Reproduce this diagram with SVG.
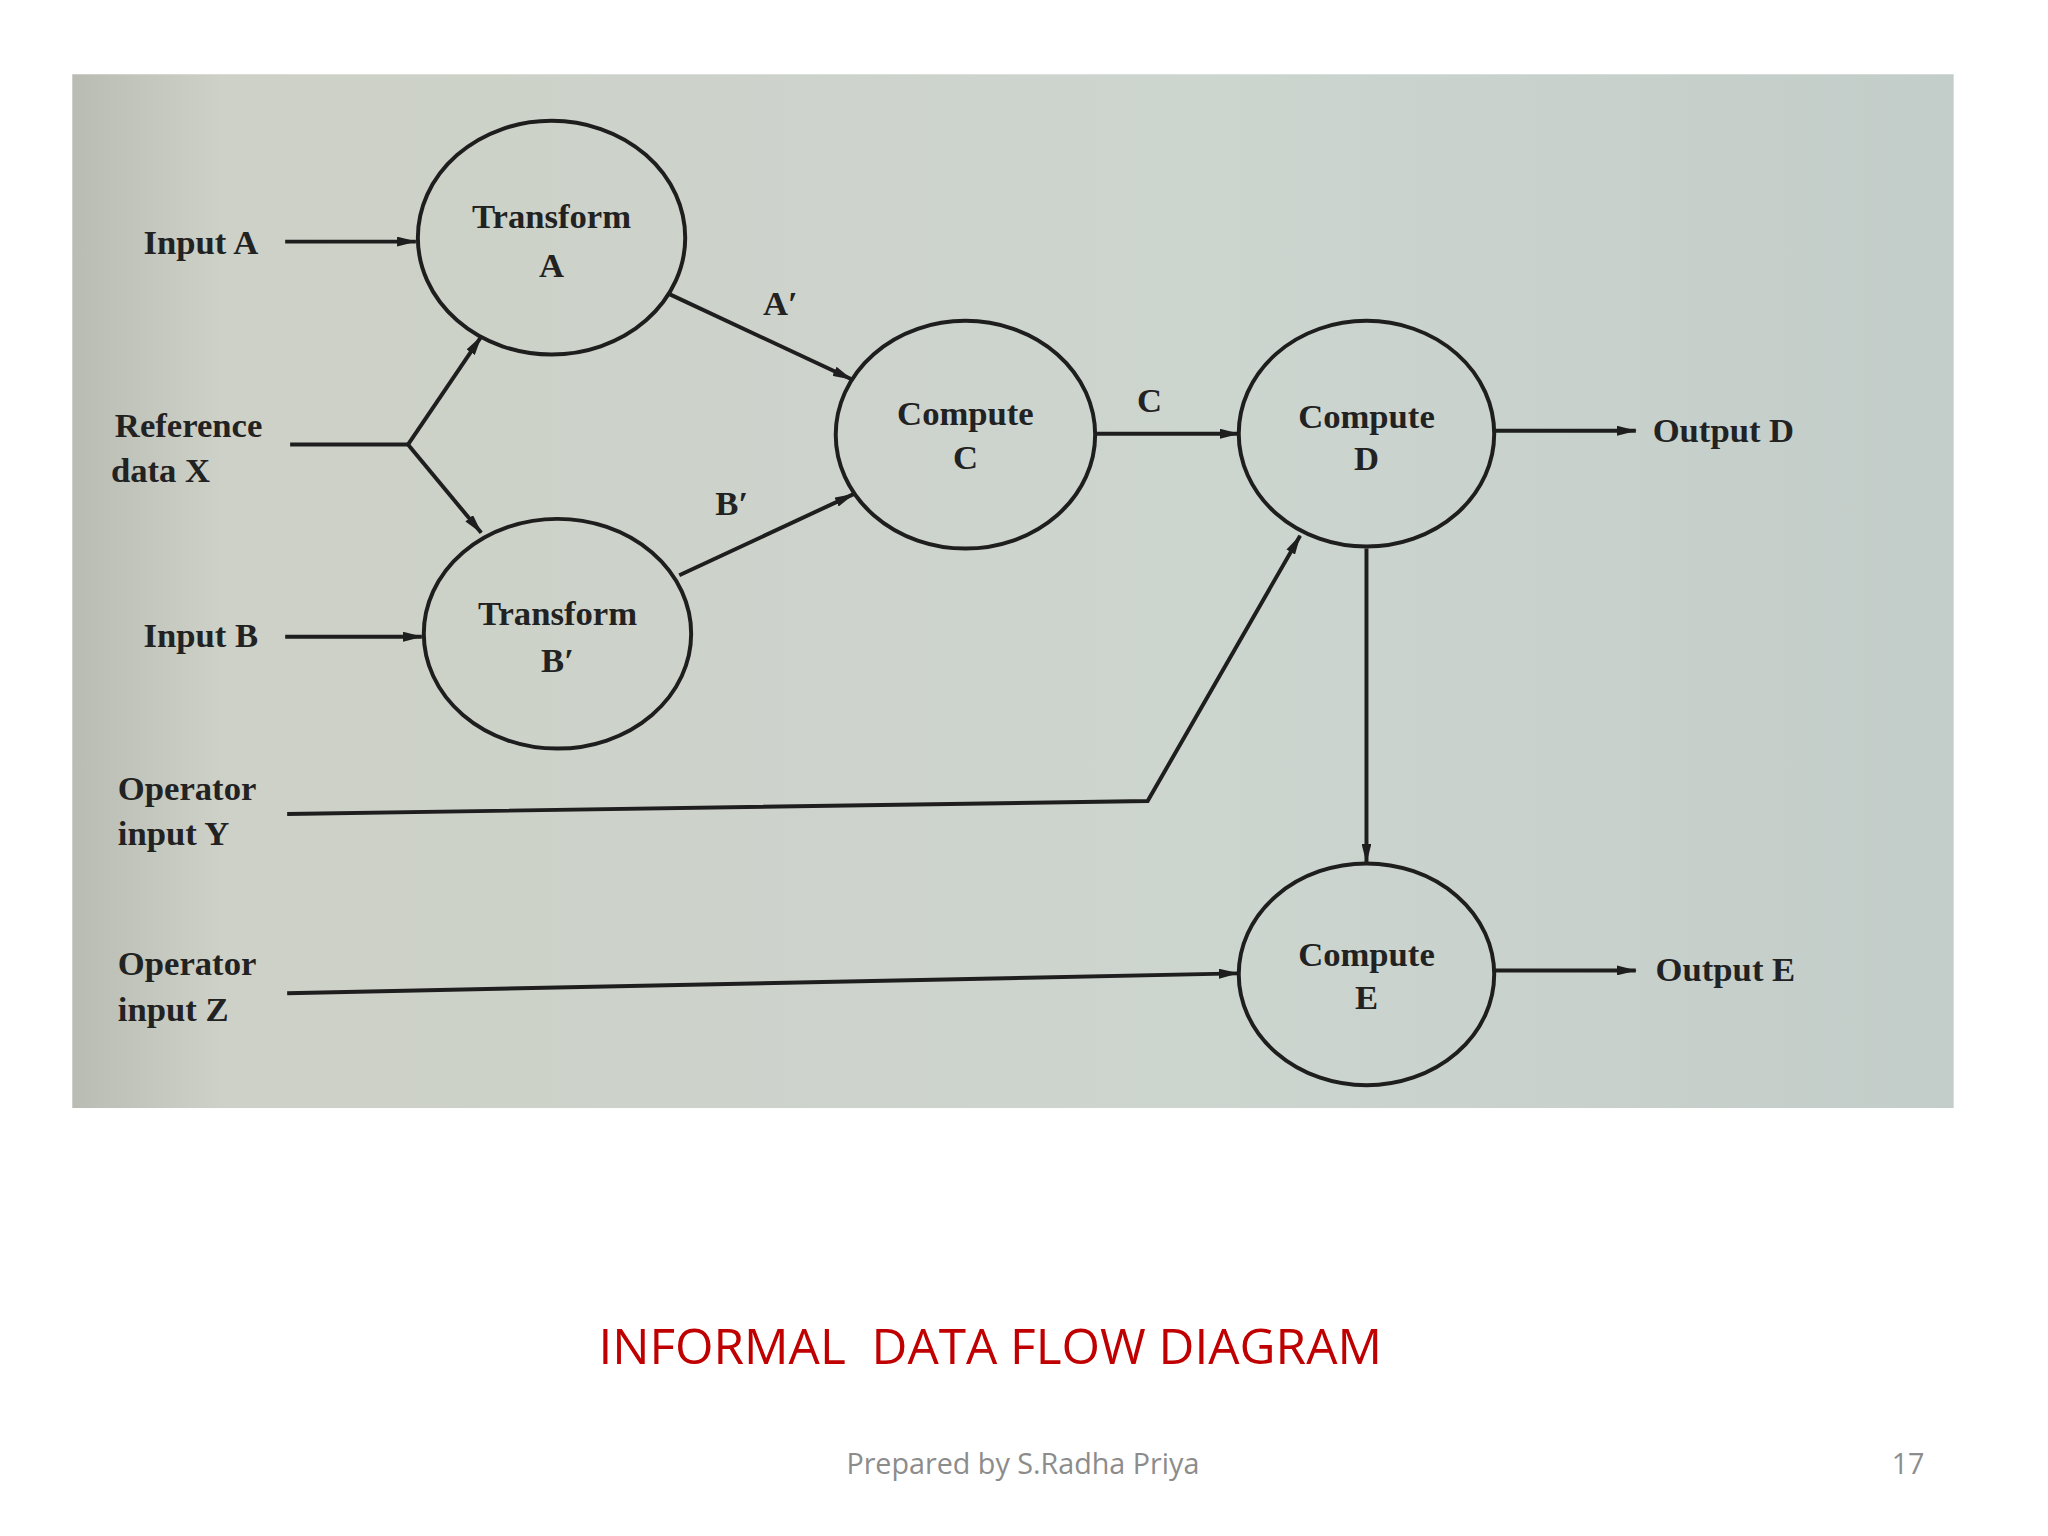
<svg xmlns="http://www.w3.org/2000/svg" width="2048" height="1536" viewBox="0 0 2048 1536">
<defs>
<linearGradient id="bg" x1="0" y1="0" x2="1" y2="0">
<stop offset="0" stop-color="#b9bcb2"/><stop offset="0.08" stop-color="#cdd1c7"/><stop offset="0.6" stop-color="#cdd5cf"/><stop offset="1" stop-color="#c3cdc9"/>
</linearGradient>
<marker id="ar" viewBox="0 0 20 10" refX="19" refY="5" markerWidth="20" markerHeight="10" markerUnits="userSpaceOnUse" orient="auto"><path d="M0,0 L20,5 L0,10 Z" fill="#1e1e1e"/></marker>
</defs>
<style>
.n{fill:none;stroke:#1e1e1e;stroke-width:4}
.c{fill:none;stroke:#1e1e1e;stroke-width:4;marker-end:url(#ar)}
.c2{fill:none;stroke:#1e1e1e;stroke-width:4}
text{font-family:"Liberation Serif",serif;font-weight:bold;font-size:35px;fill:#222}
.m{text-anchor:middle}
</style>
<rect width="2048" height="1536" fill="#fff"/>
<g transform="scale(0.9902)">
<rect x="73" y="75" width="1900" height="1044" fill="url(#bg)"/>
<g id="connectors">
<path class="c" d="M288,244 L420,244"/>
<path class="c2" d="M293,449 L412,449"/>
<path class="c" d="M412,449 L486,340"/>
<path class="c" d="M412,449 L486,538"/>
<path class="c" d="M288,643 L426,643"/>
<path class="c" d="M676,297 L860,383"/>
<path class="c" d="M686,581 L862,499"/>
<path class="c" d="M1106,438 L1251,438"/>
<path class="c" d="M1508,435 L1652,435"/>
<path class="c" d="M290,822 L1159,809 L1313,541"/>
<path class="c" d="M1380,554 L1380,871"/>
<path class="c" d="M290,1003 L1250,983"/>
<path class="c" d="M1508,980 L1652,980"/>
<text x="788" y="318" class="m">A′</text>
<text x="739" y="520" class="m">B′</text>
<text x="1161" y="416" class="m">C</text>
</g>
<g id="inputs">
<text x="145" y="257">Input A</text>
<text x="116" y="441">Reference</text>
<text x="112" y="487">data X</text>
<text x="145" y="653">Input B</text>
<text x="119" y="808">Operator</text>
<text x="119" y="853">input Y</text>
<text x="119" y="985">Operator</text>
<text x="119" y="1031">input Z</text>
<text x="1669" y="446">Output D</text>
<text x="1672" y="991">Output E</text>
</g>
<g id="transformA"><ellipse class="n" cx="557" cy="240" rx="135" ry="118"/><text x="557" y="230" class="m">Transform</text><text x="557" y="280" class="m">A</text></g>
<g id="transformB"><ellipse class="n" cx="563" cy="640" rx="135" ry="116"/><text x="563" y="631" class="m">Transform</text><text x="563" y="679" class="m">B′</text></g>
<g id="computeC"><ellipse class="n" cx="975" cy="439" rx="131" ry="115"/><text x="975" y="429" class="m">Compute</text><text x="975" y="474" class="m">C</text></g>
<g id="computeD"><ellipse class="n" cx="1380" cy="438" rx="129" ry="114"/><text x="1380" y="432" class="m">Compute</text><text x="1380" y="475" class="m">D</text></g>
<g id="computeE"><ellipse class="n" cx="1380" cy="984" rx="129" ry="112"/><text x="1380" y="976" class="m">Compute</text><text x="1380" y="1019" class="m">E</text></g>
<text x="1000" y="1378" xml:space="preserve" style="font-family:'Open Sans',sans-serif;font-weight:normal;font-size:50px;fill:#c00000;white-space:pre" class="m">INFORMAL  DATA FLOW DIAGRAM</text>
<text x="1033" y="1489" style="font-family:'Open Sans',sans-serif;font-weight:normal;font-size:29px;fill:#8c8c8c" class="m">Prepared by S.Radha Priya</text>
<text x="1927" y="1489" style="font-family:'Open Sans',sans-serif;font-weight:normal;font-size:29px;fill:#8c8c8c" class="m">17</text>
</g>
</svg>
